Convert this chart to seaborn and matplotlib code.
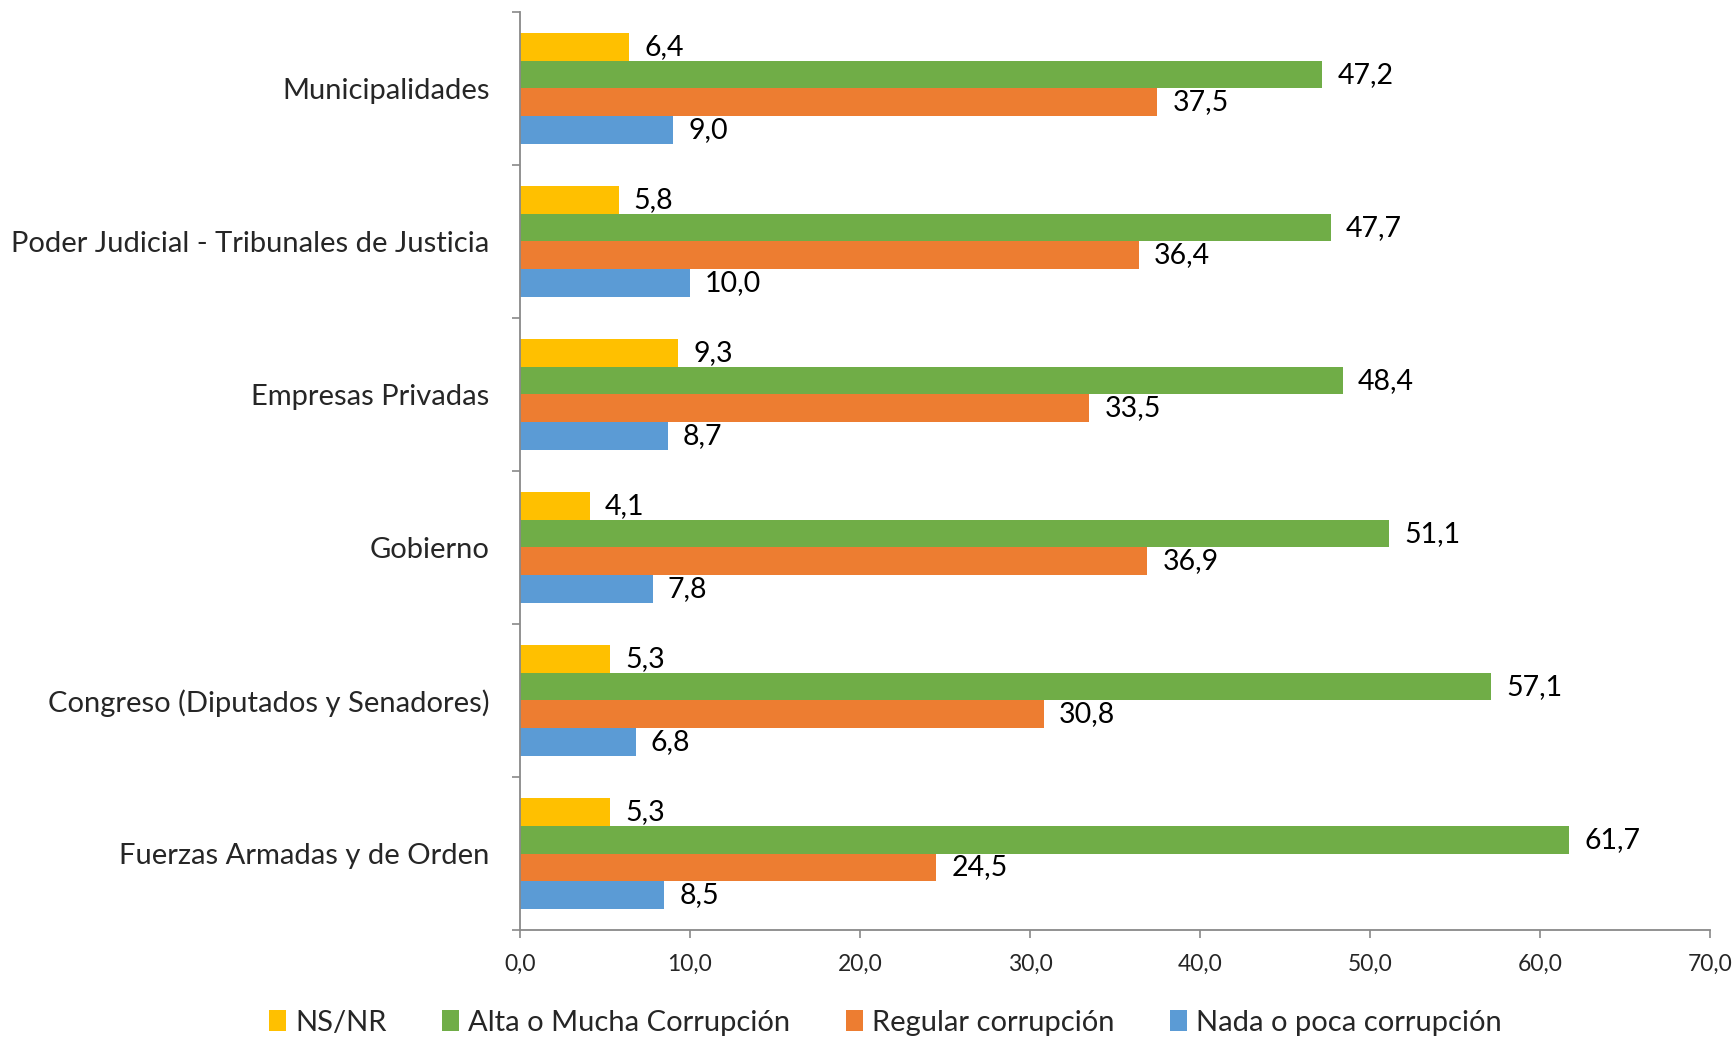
import matplotlib
matplotlib.use("Agg")
import matplotlib.pyplot as plt
import seaborn as sns
import pandas as pd
import numpy as np

# Institutions (top to bottom) and perceived corruption levels
instituciones = [
    "Municipalidades",
    "Poder Judicial - Tribunales de Justicia",
    "Empresas Privadas",
    "Gobierno",
    "Congreso (Diputados y Senadores)",
    "Fuerzas Armadas y de Orden",
]
series = ["NS/NR", "Alta o Mucha Corrupción", "Regular corrupción", "Nada o poca corrupción"]

ns_nr = [6.4, 5.8, 9.3, 4.1, 5.3, 5.3]
alta = [47.2, 47.7, 48.4, 51.1, 57.1, 61.7]
regular = [37.5, 36.4, 33.5, 36.9, 30.8, 24.5]
nada = [9.0, 10.0, 8.7, 7.8, 6.8, 8.5]

x_ticks = [0, 10, 20, 30, 40, 50, 60, 70]

colores = ["#FFC000", "#70AD47", "#ED7D31", "#5B9BD5"]

valores = [ns_nr, alta, regular, nada]
df = pd.DataFrame(
    [(inst, s, v) for s, vals in zip(series, valores) for inst, v in zip(instituciones, vals)],
    columns=["institucion", "serie", "valor"],
)

sns.set_theme(style="white")
plt.rcParams["font.family"] = ["Lato", "DejaVu Sans"]

fig = plt.figure(figsize=(17.36, 10.39), dpi=100)
ax = fig.add_axes([0.2995, 0.1049, 0.9850 - 0.2995, 0.9885 - 0.1049])

sns.barplot(
    data=df, y="institucion", x="valor", hue="serie",
    order=instituciones, hue_order=series, palette=colores,
    orient="h", width=0.72, linewidth=0, saturation=1, ax=ax, legend=True,
)

# value labels with comma decimals
for cont in ax.containers:
    vals = cont.datavalues
    ax.bar_label(cont, labels=[f"{v:.1f}".replace(".", ",") for v in vals],
                 padding=11, fontsize=20.5, color="black")

ax.set_xlim(0, 70)
ax.set_ylim(5.5, -0.5)
ax.set_xticks(x_ticks)
ax.set_xticklabels([f"{t:.1f}".replace(".", ",") for t in x_ticks], fontsize=16.5)
ax.set_xlabel("")
ax.set_ylabel("")

ax.set_yticks(range(len(instituciones)))
ax.set_yticklabels(instituciones, fontsize=21)
ax.set_yticks(np.arange(-0.5, len(instituciones)), minor=True)
ax.tick_params(axis="y", which="major", length=0, pad=22)
ax.tick_params(axis="y", which="minor", length=6, width=1.2, color="#898989", direction="out", left=True)
ax.tick_params(axis="x", which="major", length=6, width=1.2, color="#898989", direction="out", bottom=True, pad=11)

for side in ["top", "right"]:
    ax.spines[side].set_visible(False)
for side in ["left", "bottom"]:
    ax.spines[side].set_color("#898989")
    ax.spines[side].set_linewidth(1.3)

ax.get_legend().remove()
handles, labels = ax.get_legend_handles_labels()
fig.legend(handles[:4], labels[:4], loc="lower center", bbox_to_anchor=(0.51, -0.022),
           ncol=4, frameon=False, fontsize=21, handlelength=0.6, handleheight=0.7,
           handletextpad=0.3, columnspacing=1.9)

fig.savefig("out.png", dpi=100)
